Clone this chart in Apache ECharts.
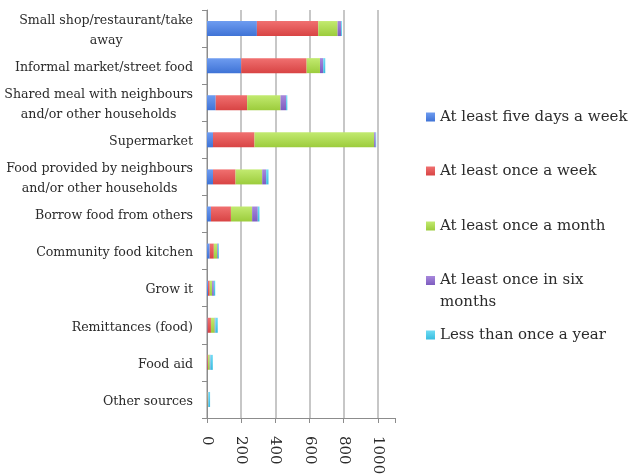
<!DOCTYPE html>
<html>
<head>
<meta charset="utf-8">
<script src="https://cdn.jsdelivr.net/npm/echarts@6/dist/echarts.min.js"></script>
<style>html,body{margin:0;padding:0;background:#fff}#c{width:629px;height:476px}</style>
</head>
<body>
<div id="c"></div>
<script>
const categories = [
  "Small shop/restaurant/take away",
  "Informal market/street food",
  "Shared meal with neighbours and/or other households",
  "Supermarket",
  "Food provided by neighbours and/or other households",
  "Borrow food from others",
  "Community food kitchen",
  "Grow it",
  "Remittances (food)",
  "Food aid",
  "Other sources"
];
const seriesNames = [
  "At least five days a week",
  "At least once a week",
  "At least once a month",
  "At least once in six months",
  "Less than once a year"
];
const fiveDaysAWeek   = [292, 200, 51, 35, 35, 23, 16, 6, 3, 2, 2];
const onceAWeek       = [359, 383, 184, 243, 132, 117, 24, 10, 20, 4, 2];
const onceAMonth      = [113, 78, 195, 700, 156, 124, 20, 14, 22, 10, 2];
const onceInSixMonths = [20, 19, 33, 9, 23, 33, 5, 10, 4, 4, 2];
const lessThanYearly  = [5, 12, 7, 3, 14, 10, 5, 8, 14, 14, 10];
const xTicks = [0, 200, 400, 600, 800, 1000];

const values = [fiveDaysAWeek, onceAWeek, onceAMonth, onceInSixMonths, lessThanYearly];
const colors = [
  ['#6e9cf0', '#3f73d6'],
  ['#f07070', '#d84444'],
  ['#c2ea70', '#9ccc3c'],
  ['#a888dc', '#7d5cbf'],
  ['#70dcf4', '#38bde0']
];
const labelWraps = {
  "Small shop/restaurant/take away": ["Small shop/restaurant/take", "away"],
  "Shared meal with neighbours and/or other households": ["Shared meal with neighbours", "and/or other households"],
  "Food provided by neighbours and/or other households": ["Food provided by neighbours", "and/or other households"]
};
const FONT = '"DejaVu Serif", serif';

const chart = echarts.init(document.getElementById('c'));
const legendTops = [102.5, 156.5, 211.5, 242.5, 320.5];
const legends = seriesNames.map((n, i) => ({
  data: [n],
  orient: 'vertical',
  left: 421,
  top: legendTops[i],
  itemWidth: 9,
  itemHeight: 9,
  icon: 'rect',
  selectedMode: false,
  formatter: nm => nm === "At least once in six months" ? "\nAt least once in six\nmonths" : nm,
  textStyle: {
    fontFamily: FONT, fontSize: 15, color: '#2b2b2b', lineHeight: i === 3 ? 22 : 19
  }
}));

chart.setOption({
  animation: false,
  backgroundColor: '#fff',
  legend: legends,
  grid: { left: 207, right: 234, top: 10, bottom: 58, containLabel: false, outerBoundsMode: 'none' },
  xAxis: {
    type: 'value',
    min: 0,
    max: 1100,
    interval: 200,
    axisLine: { show: true, lineStyle: { color: '#8c8c8c', width: 1 } },
    axisTick: { show: true, inside: false, length: 5, lineStyle: { color: '#8c8c8c' } },
    axisLabel: {
      rotate: -90,
      margin: 18,
      fontFamily: FONT,
      fontSize: 15,
      color: '#2b2b2b',
      formatter: v => xTicks.indexOf(v) >= 0 ? String(v) : ''
    },
    splitLine: {
      show: true,
      lineStyle: { color: ['#b4b4b4', '#b4b4b4', '#b4b4b4', '#b4b4b4', '#b4b4b4', '#b4b4b4', 'rgba(0,0,0,0)'], width: 1.5 }
    }
  },
  yAxis: {
    type: 'category',
    inverse: true,
    data: categories,
    axisLine: { show: true, lineStyle: { color: '#8c8c8c', width: 1 } },
    axisTick: { show: true, length: 5, lineStyle: { color: '#8c8c8c' } },
    axisLabel: {
      margin: 14,
      fontFamily: FONT,
      fontSize: 12.6,
      color: '#2b2b2b',
      lineHeight: 20,
      padding: [4, 0, 0, 0],
      formatter: v => labelWraps[v] ? labelWraps[v].map(s => '{c|' + s + '}').join('\n') : v,
      rich: { c: { align: 'center', fontFamily: FONT, fontSize: 12.6, color: '#2b2b2b', lineHeight: 20 } }
    }
  },
  series: seriesNames.map((n, i) => ({
    name: n,
    type: 'bar',
    stack: 'total',
    barWidth: 15,
    data: values[i],
    itemStyle: {
      color: new echarts.graphic.LinearGradient(0, 0, 0, 1, [
        { offset: 0, color: colors[i][0] },
        { offset: 1, color: colors[i][1] }
      ])
    }
  }))
});
</script>
</body>
</html>
